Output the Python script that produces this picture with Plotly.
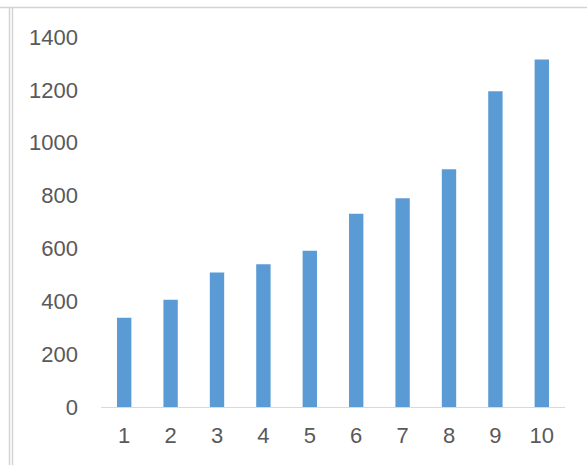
import plotly.graph_objects as go

categories = ["1", "2", "3", "4", "5", "6", "7", "8", "9", "10"]
values = [338, 406, 509, 540, 591, 731, 790, 900, 1195, 1315]
y_ticks = [0, 200, 400, 600, 800, 1000, 1200, 1400]

W, H = 587, 465
L, R, T, B = 101, 22, 37, 58
pw, ph = W - L - R, H - T - B

def px_x(px):
    return (px - L) / pw

def px_y(py):
    return (H - B - py) / ph

fig = go.Figure(go.Bar(x=categories, y=values, marker=dict(color="#5b9bd5", line=dict(width=0))))

border = "#d4d4d4"
shapes = [
    dict(type="line", xref="paper", yref="paper", x0=px_x(0), x1=px_x(W), y0=px_y(7.5), y1=px_y(7.5),
         line=dict(color=border, width=1.5)),
    dict(type="line", xref="paper", yref="paper", x0=px_x(9.5), x1=px_x(9.5), y0=px_y(7.5), y1=px_y(H + 2),
         line=dict(color=border, width=1.5)),
    dict(type="line", xref="paper", yref="paper", x0=px_x(12.5), x1=px_x(12.5), y0=px_y(7.5), y1=px_y(H + 2),
         line=dict(color=border, width=1.5)),
]

fig.update_layout(
    width=W, height=H,
    margin=dict(l=L, r=R, t=T, b=B, pad=0),
    paper_bgcolor="white", plot_bgcolor="white",
    bargap=0.69,
    showlegend=False,
    shapes=shapes,
    font=dict(family="Liberation Sans, Arial", size=22, color="#595959"),
    xaxis=dict(type="category", showline=True, linecolor="#d9d9d9", linewidth=1,
               showgrid=False, ticks="", ticklabelstandoff=9, zeroline=False),
    yaxis=dict(range=[0, 1400], tickvals=y_ticks, showgrid=False, showline=False,
               zeroline=False, ticks="", ticklabelstandoff=22),
)

fig.write_html("out.html")
